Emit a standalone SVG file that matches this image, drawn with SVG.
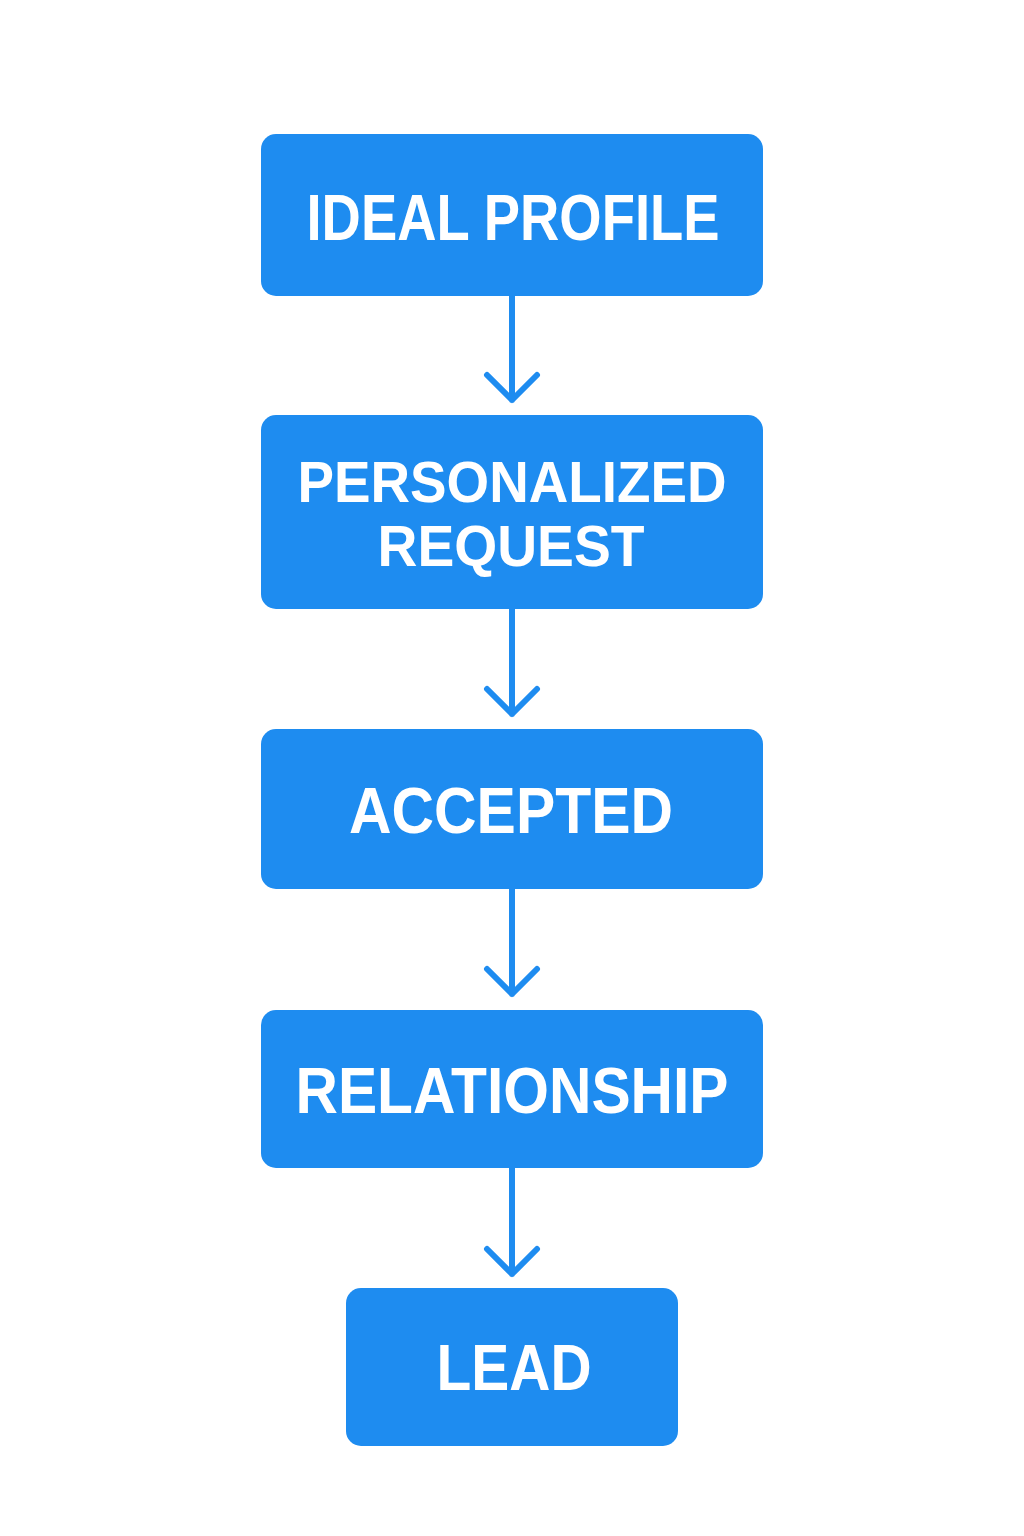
<svg xmlns="http://www.w3.org/2000/svg" width="1024" height="1536" viewBox="0 0 1024 1536">
<style>
.box{fill:#1E8CF0}
.t{fill:#fff;font-family:"Liberation Sans",Arial,sans-serif;font-weight:bold;font-size:64px;text-anchor:middle}
.s{font-size:58px}
.c{stroke:#1E8CF0;stroke-width:6;fill:none;stroke-linecap:round;stroke-linejoin:round}
</style>
<rect width="1024" height="1536" fill="#fff"/>
<g id="connectors">
<path class="c" d="M512 296V400M487 375L512 400L537 375"/>
<path class="c" d="M512 609V714M487 689L512 714L537 689"/>
<path class="c" d="M512 889V994M487 969L512 994L537 969"/>
<path class="c" d="M512 1168V1274M487 1249L512 1274L537 1249"/>
</g>
<g id="n1"><rect class="box" x="261" y="134" width="502" height="162" rx="15"/><text class="t" x="513" y="240" textLength="413" lengthAdjust="spacingAndGlyphs">IDEAL PROFILE</text></g>
<g id="n2"><rect class="box" x="261" y="415" width="502" height="194" rx="15"/><text class="t s" x="512" y="502" textLength="429" lengthAdjust="spacingAndGlyphs">PERSONALIZED</text><text class="t s" x="511" y="566" textLength="267" lengthAdjust="spacingAndGlyphs">REQUEST</text></g>
<g id="n3"><rect class="box" x="261" y="729" width="502" height="160" rx="15"/><text class="t" x="511" y="833" textLength="324" lengthAdjust="spacingAndGlyphs">ACCEPTED</text></g>
<g id="n4"><rect class="box" x="261" y="1010" width="502" height="158" rx="15"/><text class="t" x="512" y="1113" textLength="433" lengthAdjust="spacingAndGlyphs">RELATIONSHIP</text></g>
<g id="n5"><rect class="box" x="346" y="1288" width="332" height="158" rx="15"/><text class="t" x="514" y="1390" textLength="155" lengthAdjust="spacingAndGlyphs">LEAD</text></g>
</svg>
